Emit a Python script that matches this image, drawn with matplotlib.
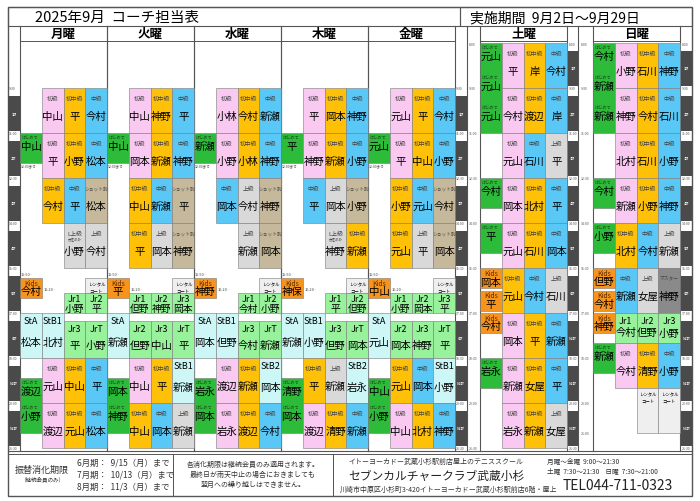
import matplotlib.pyplot as plt
import matplotlib.patches as patches

plt.rcParams['font.family'] = ['Noto Sans CJK JP', 'DejaVu Sans']

# 色
colors = {
    'はじめて': '#2dbb3a', '初級': '#f9c9f1', '初中級': '#ffc107', '中級': '#5ac8f7',
    '上級': '#d9d9d9', 'L上級': '#d9d9d9', 'ショット別': '#c6b99b', 'Kids': '#f7941d',
    'Jr1': '#98f19b', 'Jr2': '#98f19b', 'Jr3': '#98f19b', 'JrT': '#98f19b',
    'StA': '#cdf6f6', 'StB1': '#cdf6f6', 'StB2': '#cdf6f6', 'マスター': '#8a8a8a',
    'レンタル': '#efefef',
}

# (列, 開始, 終了, クラス, コーチ)
mon = [(1, '9:30', '11:00', '初級', '中山'), (2, '9:30', '11:00', '初中級', '平'), (3, '9:30', '11:00', '中級', '今村'),
       (0, '11:00', '12:00', 'はじめて', '中山'), (1, '11:00', '12:30', '初級', '平'), (2, '11:00', '12:30', '初中級', '小野'), (3, '11:00', '12:30', '中級', '松本'),
       (1, '12:30', '14:00', '初中級', '今村'), (2, '12:30', '14:00', '中級', '平'), (3, '12:30', '14:00', 'ショット別', '松本'),
       (2, '14:00', '15:30', 'L上級', '小野'), (3, '14:00', '15:30', '上級', '今村'),
       (0, '15:50', '16:30', 'Kids', '今村'), (3, '15:50', '16:20', 'レンタル', ''),
       (2, '16:20', '17:00', 'Jr1', '小野'), (3, '16:20', '17:00', 'Jr2', '平'),
       (0, '17:00', '18:30', 'StA', '松本'), (1, '17:00', '18:30', 'StB1', '北村'),
       (2, '17:15', '18:30', 'Jr3', '平'), (3, '17:15', '18:30', 'JrT', '小野'),
       (0, '19:10', '20:00', 'はじめて', '渡辺'), (1, '18:30', '20:00', '初級', '元山'), (2, '18:30', '20:00', '初中級', '中山'), (3, '18:30', '20:00', '中級', '平'),
       (0, '20:00', '21:00', 'はじめて', '小野'), (1, '20:00', '21:30', '初級', '渡辺'), (2, '20:00', '21:30', '初中級', '元山'), (3, '20:00', '21:30', '中級', '松本')]
tue = [(1, '9:30', '11:00', '初級', '中山'), (2, '9:30', '11:00', '初中級', '神野'), (3, '9:30', '11:00', '中級', '平'),
       (0, '11:00', '12:00', 'はじめて', '中山'), (1, '11:00', '12:30', '初級', '岡本'), (2, '11:00', '12:30', '初中級', '新瀬'), (3, '11:00', '12:30', '中級', '神野'),
       (1, '12:30', '14:00', '初中級', '中山'), (2, '12:30', '14:00', '中級', '新瀬'), (3, '12:30', '14:00', 'ショット別', '平'),
       (1, '14:00', '15:30', '初中級', '平'), (2, '14:00', '15:30', '上級', '岡本'), (3, '14:00', '15:30', 'ショット別', '神野'),
       (0, '15:50', '16:30', 'Kids', '平'), (3, '15:50', '16:20', 'レンタル', ''),
       (1, '16:20', '17:00', 'Jr1', '但野'), (2, '16:20', '17:00', 'Jr2', '神野'), (3, '16:20', '17:00', 'Jr3', '岡本'),
       (0, '17:00', '18:30', 'StA', '新瀬'),
       (1, '17:15', '18:30', 'Jr2', '但野'), (2, '17:15', '18:30', 'Jr3', '中山'), (3, '17:15', '18:30', 'JrT', '平'),
       (0, '19:10', '20:00', 'はじめて', '岡本'), (1, '18:30', '20:00', '初級', '中山'), (2, '18:30', '20:00', '初中級', '平'), (3, '18:30', '20:00', 'StB1', '新瀬'),
       (0, '20:00', '21:00', 'はじめて', '神野'), (1, '20:00', '21:30', '初中級', '中山'), (2, '20:00', '21:30', '中級', '岡本'), (3, '20:00', '21:30', '上級', '新瀬')]
wed = [(1, '9:30', '11:00', '初級', '小林'), (2, '9:30', '11:00', '初中級', '今村'), (3, '9:30', '11:00', '中級', '新瀬'),
       (0, '11:00', '12:00', 'はじめて', '新瀬'), (1, '11:00', '12:30', '初級', '小野'), (2, '11:00', '12:30', '初中級', '小林'), (3, '11:00', '12:30', '中級', '神野'),
       (1, '12:30', '14:00', '中級', '岡本'), (2, '12:30', '14:00', '上級', '今村'), (3, '12:30', '14:00', 'ショット別', '神野'),
       (2, '14:00', '15:30', '上級', '新瀬'), (3, '14:00', '15:30', 'ショット別', '岡本'),
       (0, '15:50', '16:30', 'Kids', '神野'), (3, '15:50', '16:20', 'レンタル', ''),
       (2, '16:20', '17:00', 'Jr1', '今村'), (3, '16:20', '17:00', 'Jr2', '小野'),
       (0, '17:00', '18:30', 'StA', '岡本'), (1, '17:00', '18:30', 'StB1', '但野'),
       (2, '17:15', '18:30', 'Jr3', '今村'), (3, '17:15', '18:30', 'JrT', '新瀬'),
       (0, '19:10', '20:00', 'はじめて', '岩永'), (1, '18:30', '20:00', '初級', '渡辺'), (2, '18:30', '20:00', '初中級', '新瀬'), (3, '18:30', '20:00', 'StB2', '岡本'),
       (0, '20:00', '21:00', 'はじめて', '岡本'), (1, '20:00', '21:30', '初級', '岩永'), (2, '20:00', '21:30', '初中級', '渡辺'), (3, '20:00', '21:30', '中級', '今村')]
thu = [(1, '9:30', '11:00', '初級', '平'), (2, '9:30', '11:00', '初中級', '岡本'), (3, '9:30', '11:00', '中級', '神野'),
       (0, '11:00', '12:00', 'はじめて', '平'), (1, '11:00', '12:30', '初級', '神野'), (2, '11:00', '12:30', '初中級', '新瀬'), (3, '11:00', '12:30', '中級', '小野'),
       (1, '12:30', '14:00', '中級', '平'), (2, '12:30', '14:00', '上級', '岡本'), (3, '12:30', '14:00', 'ショット別', '小野'),
       (2, '14:00', '15:30', 'L上級', '神野'), (3, '14:00', '15:30', '初中級', '新瀬'),
       (0, '15:50', '16:30', 'Kids', '神保'), (3, '15:50', '16:20', 'レンタル', ''),
       (2, '16:20', '17:00', 'Jr1', '平'), (3, '16:20', '17:00', 'Jr2', '但野'),
       (0, '17:00', '18:30', 'StA', '新瀬'), (1, '17:00', '18:30', 'StB1', '小野'),
       (2, '17:15', '18:30', 'Jr3', '但野'), (3, '17:15', '18:30', 'JrT', '岡本'),
       (0, '19:10', '20:00', 'はじめて', '清野'), (1, '18:30', '20:00', '初中級', '平'), (2, '18:30', '20:00', '上級', '新瀬'), (3, '18:30', '20:00', 'StB2', '岩永'),
       (0, '20:00', '21:00', 'はじめて', '岡本'), (1, '20:00', '21:30', '初級', '渡辺'), (2, '20:00', '21:30', '初中級', '清野'), (3, '20:00', '21:30', '中級', '新瀬')]
fri = [(1, '9:30', '11:00', '初級', '元山'), (2, '9:30', '11:00', '初中級', '平'), (3, '9:30', '11:00', '中級', '今村'),
       (0, '11:00', '12:00', 'はじめて', '元山'), (1, '11:00', '12:30', '初級', '平'), (2, '11:00', '12:30', '初中級', '中山'), (3, '11:00', '12:30', '中級', '小野'),
       (1, '12:30', '14:00', '初中級', '小野'), (2, '12:30', '14:00', '中級', '元山'), (3, '12:30', '14:00', 'ショット別', '今村'),
       (1, '14:00', '15:30', '初中級', '元山'), (2, '14:00', '15:30', '上級', '平'), (3, '14:00', '15:30', 'ショット別', '岡本'),
       (0, '15:50', '16:30', 'Kids', '中山'), (3, '15:50', '16:20', 'レンタル', ''),
       (1, '16:20', '17:00', 'Jr1', '小野'), (2, '16:20', '17:00', 'Jr2', '岡本'), (3, '16:20', '17:00', 'Jr3', '平'),
       (0, '17:00', '18:30', 'StA', '元山'),
       (1, '17:15', '18:30', 'Jr2', '岡本'), (2, '17:15', '18:30', 'Jr3', '神野'), (3, '17:15', '18:30', 'JrT', '平'),
       (0, '19:10', '20:00', 'はじめて', '中山'), (1, '18:30', '20:00', '初中級', '元山'), (2, '18:30', '20:00', '中級', '岡本'), (3, '18:30', '20:00', 'StB1', '小野'),
       (0, '20:00', '21:00', 'はじめて', '小野'), (1, '20:00', '21:30', '初級', '中山'), (2, '20:00', '21:30', '初中級', '北村'), (3, '20:00', '21:30', '中級', '神野')]
sat = [(0, '8:00', '9:00', 'はじめて', '元山'), (0, '9:00', '10:00', 'はじめて', '元山'), (0, '10:00', '11:00', 'はじめて', '元山'),
       (1, '8:00', '9:30', '初級', '平'), (2, '8:00', '9:30', '初中級', '岸'), (3, '8:00', '9:30', '中級', '今村'),
       (1, '9:30', '11:00', '初級', '今村'), (2, '9:30', '11:00', '初中級', '渡辺'), (3, '9:30', '11:00', '中級', '岸'),
       (1, '11:00', '12:30', '初級', '元山'), (2, '11:00', '12:30', '中級', '石川'), (3, '11:00', '12:30', '上級', '平'),
       (0, '12:30', '13:30', 'はじめて', '今村'), (1, '12:30', '14:00', '初級', '岡本'), (2, '12:30', '14:00', '初中級', '北村'), (3, '12:30', '14:00', '中級', '平'),
       (0, '14:00', '15:00', 'はじめて', '平'), (1, '14:00', '15:30', '初級', '元山'), (2, '14:00', '15:30', '初中級', '石川'), (3, '14:00', '15:30', '中級', '岡本'),
       (0, '15:30', '16:10', 'Kids', '岡本'), (0, '16:15', '16:55', 'Kids', '平'), (0, '17:00', '17:40', 'Kids', '今村'),
       (1, '15:30', '17:00', '初中級', '元山'), (2, '15:30', '17:00', '中級', '今村'), (3, '15:30', '17:00', '上級', '石川'),
       (1, '17:00', '18:30', '初級', '岡本'), (2, '17:00', '18:30', '初中級', '平'), (3, '17:00', '18:30', '中級', '新瀬'),
       (0, '18:30', '19:30', 'はじめて', '岩永'), (1, '18:30', '20:00', '初級', '新瀬'), (2, '18:30', '20:00', '初中級', '女屋'), (3, '18:30', '20:00', '中級', '平'),
       (1, '20:00', '21:30', '初級', '岩永'), (2, '20:00', '21:30', '初中級', '新瀬'), (3, '20:00', '21:30', '上級', '女屋')]
sun = [(0, '8:00', '9:00', 'はじめて', '今村'), (0, '9:00', '10:00', 'はじめて', '新瀬'), (0, '10:00', '11:00', 'はじめて', '新瀬'),
       (1, '8:00', '9:30', '初級', '小野'), (2, '8:00', '9:30', '初中級', '石川'), (3, '8:00', '9:30', '中級', '神野'),
       (1, '9:30', '11:00', '初級', '神野'), (2, '9:30', '11:00', '初中級', '今村'), (3, '9:30', '11:00', '中級', '石川'),
       (1, '11:00', '12:30', '初級', '北村'), (2, '11:00', '12:30', '初中級', '石川'), (3, '11:00', '12:30', '中級', '小野'),
       (0, '12:30', '13:30', 'はじめて', '今村'), (1, '12:30', '14:00', '初級', '新瀬'), (2, '12:30', '14:00', '初中級', '小野'), (3, '12:30', '14:00', '中級', '神野'),
       (0, '14:00', '15:00', 'はじめて', '小野'), (1, '14:00', '15:30', '初中級', '北村'), (2, '14:00', '15:30', '中級', '今村'), (3, '14:00', '15:30', '上級', '新瀬'),
       (0, '15:30', '16:10', 'Kids', '但野'), (0, '16:15', '16:55', 'Kids', '今村'), (0, '17:00', '17:40', 'Kids', '神野'),
       (1, '15:30', '17:00', '中級', '新瀬'), (2, '15:30', '17:00', '上級', '女屋'), (3, '15:30', '17:00', 'マスター', '神野'),
       (1, '17:00', '18:00', 'Jr1', '今村'), (2, '17:00', '18:00', 'Jr2', '但野'), (3, '17:00', '18:00', 'Jr3', '小野'),
       (0, '18:00', '19:00', 'はじめて', '新瀬'), (1, '18:00', '19:30', '初級', '今村'), (2, '18:00', '19:30', '初中級', '清野'), (3, '18:00', '19:30', '中級', '小野'),
       (2, '19:30', '21:00', 'レンタル', ''), (3, '19:30', '21:00', 'レンタル', '')]

days = ['月曜', '火曜', '水曜', '木曜', '金曜', '土曜', '日曜']
day_x = [20, 107, 194, 281, 368, 480, 593]
schedule = [mon, tue, wed, thu, fri, sat, sun]
period_wd = ['9:30', '11:00', '12:30', '14:00', '15:30', '17:00', '18:30', '20:00', '21:30']
period_we = ['8:00', '9:30', '11:00', '12:30', '14:00', '15:30', '17:00', '18:30', '20:00', '21:30']
part_names = ['1部', '2部', '3部', '4部', '5部', '6部', 'N1部', 'N2部', 'N3部']

CW = 21.8


def ty(t):
    h, m = t.split(':')
    return 44 + (int(h) + int(m) / 60 - 8) * 30


fig = plt.figure(figsize=(7, 5.02), dpi=100)
ax = fig.add_axes([0, 0, 1, 1])
ax.set_xlim(0, 700)
ax.set_ylim(502, 0)
ax.axis('off')


def box(x, y, w, h, fc='none', ec='#555555', lw=0.8, z=1):
    ax.add_patch(patches.Rectangle((x, y), w, h, facecolor=fc, edgecolor=ec, linewidth=lw, zorder=z))


# 枠
box(8, 8, 684, 489, lw=1.0)
box(8, 8, 452, 19)
box(460, 8, 232, 19)
ax.text(117, 18, '2025年9月  コーチ担当表', fontsize=10.5, ha='center', va='center')
ax.text(470, 18, '実施期間  9月2日～9月29日', fontsize=10, ha='left', va='center')

# 曜日ヘッダ
for d, x in zip(days, day_x):
    box(x, 27, 87, 15, lw=0.7)
    ax.text(x + 43.5, 34.5, d, fontsize=9, ha='center', va='center', weight='bold')
    ax.plot([x, x], [27, 452], color='#555555', lw=0.8)
    ax.plot([x + 87, x + 87], [27, 452], color='#555555', lw=0.8)
ax.plot([467, 467], [27, 452], color='#555555', lw=0.8)
ax.plot([578, 578], [27, 452], color='#555555', lw=0.8)
ax.plot([8, 692], [452, 452], color='#555555', lw=0.8)


# 時間帯ストリップ
def strip(x, w, periods, dark=True, labels=True):
    for i in range(len(periods) - 1):
        y0, y1 = ty(periods[i]), ty(periods[i + 1])
        if dark:
            ax.add_patch(patches.Rectangle((x, y0 + 8), w, y1 - y0 - 10, facecolor='#4a4a4a', edgecolor='none'))
            ax.text(x + w / 2, (y0 + y1) / 2 + 3, part_names[i], fontsize=2.5, color='white', ha='center', va='center')
    if labels:
        for p in periods:
            ax.text(x + 0.5, ty(p) + 0.5, p, fontsize=2.5, color='#555555', ha='left', va='center')


strip(8, 12, period_wd)
strip(455, 12, period_wd)
strip(468, 12, period_we, dark=False)
strip(568, 10, period_we)
strip(580, 12, period_we[:-1] + ['21:00'], dark=False)
strip(681, 11, period_we)

# レッスン
for x0, items in zip(day_x, schedule):
    for col, t0, t1, lv, name in items:
        x = x0 + col * CW
        y0, y1 = ty(t0), ty(t1)
        h = y1 - y0
        ax.add_patch(patches.Rectangle((x, y0), CW, h, facecolor=colors[lv],
                                       edgecolor='#7a7a7a', linewidth=0.4, zorder=2))
        cx = x + CW / 2
        if lv == 'レンタル':
            ax.text(cx, y0 + 9, 'レンタル\nコート', fontsize=3.2, ha='center', va='center', linespacing=1.3, zorder=3)
            continue
        big = lv.startswith('Jr') or lv.startswith('St')
        tcol = '#444444'
        if lv == 'はじめて':
            ax.text(x + 1.5, y0 + 5, lv, fontsize=3, ha='left', va='center', color='#1a4d1a', zorder=3)
            ax.text(cx, y0 + 13, name, fontsize=7.5, ha='center', va='center', zorder=3)
        elif lv == 'Kids':
            ax.text(cx, y0 + 5, lv, fontsize=5, ha='center', va='center', color='#5a2a00', zorder=3)
            ax.text(cx, y0 + 13.5, name, fontsize=7.5, ha='center', va='center', zorder=3)
        elif big:
            if h <= 22:
                ax.text(cx, y0 + 5.5, lv, fontsize=6.5, ha='center', va='center', zorder=3)
                ax.text(cx, y0 + 15, name, fontsize=7, ha='center', va='center', zorder=3)
            else:
                ax.text(cx, y0 + 8, lv, fontsize=6.5, ha='center', va='center', zorder=3)
                ax.text(cx, y0 + h * 0.65, name, fontsize=7.5, ha='center', va='center', zorder=3)
        else:
            fs = 3.4 if lv in ('ショット別', 'マスター') else 4.2
            ax.text(cx, y0 + 10, lv, fontsize=fs, ha='center', va='center', color=tcol, zorder=3)
            if lv == 'L上級':
                ax.text(cx, y0 + 15, '女性のみ', fontsize=2.5, ha='center', va='center', color=tcol, zorder=3)
            ax.text(cx, y0 + h * 0.62, name, fontsize=7.5, ha='center', va='center', zorder=3)

# 補助テキスト
for x0 in day_x[:5]:
    ax.text(x0 + 1, ty('12:00') + 3, '12:00まで', fontsize=2.5, color='#444444', zorder=3)
    ax.text(x0 + 1, ty('15:50') - 3, '15:50~', fontsize=2.8, color='#444444', zorder=3)
    ax.text(x0 + CW + 2, ty('16:20') - 3, '16:20~', fontsize=2.8, color='#444444', zorder=3)

# フッター
box(8, 455, 165, 42, lw=0.7)
box(173, 455, 160, 42, lw=0.7)
box(333, 455, 359, 42, lw=0.7)
ax.text(42, 470, '振替消化期限', fontsize=6.5, ha='center', va='center', color='#333333')
ax.text(42, 479, '（継続会員のみ）', fontsize=4, ha='center', va='center', color='#333333')
for i, s in enumerate(['6月期：  9/15（月）まで', '7月期：  10/13（月）まで', '8月期：  11/3（月）まで']):
    ax.text(77, 463 + i * 12, s, fontsize=6, ha='left', va='center', color='#333333')
for i, s in enumerate(['各消化期限は継続会員のみ適用されます。', '最終日が雨天中止の場合におきましても', '翌月への繰り越しはできません。']):
    ax.text(253, 465 + i * 10, s, fontsize=5, ha='center', va='center', color='#333333')
ax.text(436, 462, 'イトーヨーカドー武蔵小杉駅前店屋上のテニススクール', fontsize=5, ha='center', va='center', color='#333333')
ax.text(436, 476, 'セブンカルチャークラブ武蔵小杉', fontsize=8.5, ha='center', va='center', color='#222222')
ax.text(340, 490, '川崎市中原区小杉町3-420イトーヨーカドー武蔵小杉駅前店6階・屋上', fontsize=5, ha='left', va='center', color='#333333')
ax.text(547, 462, '月曜～金曜  9:00～21:30', fontsize=4.8, ha='left', va='center', color='#333333')
ax.text(547, 471, '土曜  7:30～21:30    日曜  7:30～21:00', fontsize=4.8, ha='left', va='center', color='#333333')
ax.text(563, 486, 'TEL044-711-0323', fontsize=10, ha='left', va='center', color='#222222')

fig.savefig('out.png', dpi=100, facecolor='white')
